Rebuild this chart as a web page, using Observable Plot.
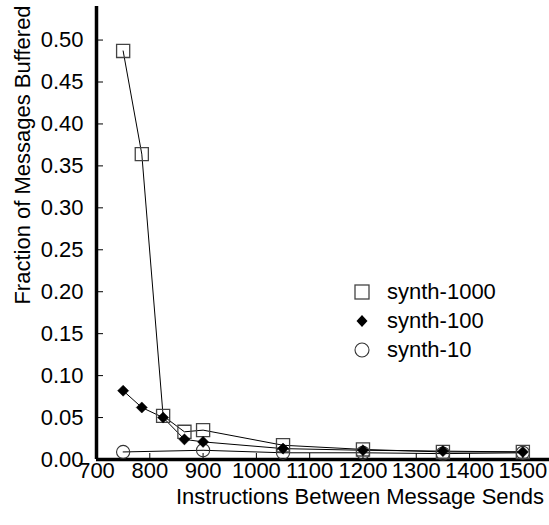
<!DOCTYPE html>
<html>
<head>
<meta charset="utf-8">
<script src="https://cdn.jsdelivr.net/npm/d3@7"></script>
<script src="https://cdn.jsdelivr.net/npm/@observablehq/plot@0.6"></script>
<style>
  html, body { margin: 0; padding: 0; background: #fff; }
  #wrap { position: relative; width: 549px; height: 525px; font-family: "Liberation Sans", Arial, sans-serif; }
  #legend { position: absolute; left: 351px; top: 277px; font-size: 22px; color: #000; }
  #legend .row { display: flex; align-items: center; height: 29px; }
  #legend svg { width: 22px; height: 22px; margin-right: 14px; overflow: visible; }
</style>
</head>
<body>
<div id="wrap"><div id="legend"></div></div>
<script>
const seriesNames = ["synth-1000", "synth-100", "synth-10"];
const x1000 = [750, 785, 825, 865, 900, 1050, 1200, 1350, 1500];
const y1000 = [0.487, 0.364, 0.052, 0.033, 0.035, 0.017, 0.012, 0.009, 0.009];
const x100 = [750, 785, 825, 865, 900, 1050, 1200, 1350, 1500];
const y100 = [0.082, 0.062, 0.050, 0.024, 0.021, 0.013, 0.011, 0.010, 0.009];
const x10 = [750, 900, 1050, 1200, 1350, 1500];
const y10 = [0.009, 0.011, 0.008, 0.008, 0.007, 0.008];
const xTicks = [700, 800, 900, 1000, 1100, 1200, 1300, 1400, 1500];
const yTicks = [0, 0.05, 0.10, 0.15, 0.20, 0.25, 0.30, 0.35, 0.40, 0.45, 0.50];

const mk = (xs, ys, s) => xs.map((x, i) => ({x, y: ys[i], s}));
const d1000 = mk(x1000, y1000, seriesNames[0]);
const d100 = mk(x100, y100, seriesNames[1]);
const d10 = mk(x10, y10, seriesNames[2]);

const font = "Liberation Sans, Arial, sans-serif";

const chart = Plot.plot({
  width: 549,
  height: 525,
  marginLeft: 96,
  marginTop: 6,
  marginBottom: 66,
  marginRight: 0,
  style: {fontFamily: font, fontSize: "22px", background: "#fff", color: "#000"},
  x: {domain: [700, 1550]},
  y: {domain: [0, 0.54]},
  marks: [
    // tick labels
    Plot.axisY({ticks: yTicks, tickSize: 0, tickPadding: 13, tickFormat: d3.format(".2f"), label: null, fontSize: 22}),
    Plot.axisX({ticks: xTicks, tickSize: 0, tickPadding: 3, tickFormat: d3.format("d"), label: null, fontSize: 22}),
    // inward ticks
    Plot.axisY({ticks: yTicks, tickSize: -7, tickFormat: () => "", label: null}),
    Plot.axisX({ticks: xTicks, tickSize: -6, tickFormat: () => "", label: null}),
    // axis lines
    Plot.ruleX([700], {strokeWidth: 3.5}),
    Plot.ruleY([0], {strokeWidth: 3.5}),
    // series lines
    Plot.line(d1000, {x: "x", y: "y", stroke: "#000", strokeWidth: 1}),
    Plot.line(d100, {x: "x", y: "y", stroke: "#000", strokeWidth: 1}),
    Plot.line(d10, {x: "x", y: "y", stroke: "#000", strokeWidth: 1}),
    // markers
    Plot.dot(d10, {x: "x", y: "y", symbol: "circle", r: 6.6, fill: "none", stroke: "#333", strokeWidth: 1.1}),
    Plot.dot(d1000, {x: "x", y: "y", symbol: "square", r: 7.4, fill: "none", stroke: "#444", strokeWidth: 1.3}),
    Plot.dot(d100, {x: "x", y: "y", symbol: "diamond2", r: 5, fill: "#000", stroke: "#000", strokeWidth: 0.5}),
    // axis titles
    Plot.text(["Fraction of Messages Buffered"], {frameAnchor: "left", textAnchor: "middle", rotate: -90, dx: -74, dy: -78, fontSize: 22, fill: "#000"}),
    Plot.text(["Instructions Between Message Sends"], {frameAnchor: "bottom", textAnchor: "middle", dx: 37, dy: 44, fontSize: 22, fill: "#000"})
  ]
});
document.getElementById("wrap").prepend(chart);

// legend
const legendSymbols = [
  '<rect x="4" y="4" width="14" height="14" fill="none" stroke="#444" stroke-width="1.3"/>',
  '<path d="M11,5 L16.5,11 L11,17 L5.5,11 Z" fill="#000"/>',
  '<circle cx="11" cy="11" r="7" fill="none" stroke="#333" stroke-width="1.1"/>'
];
const legend = document.getElementById("legend");
seriesNames.forEach((name, i) => {
  const row = document.createElement("div");
  row.className = "row";
  row.innerHTML = `<svg viewBox="0 0 22 22">${legendSymbols[i]}</svg><span>${name}</span>`;
  legend.appendChild(row);
});
</script>
</body>
</html>
